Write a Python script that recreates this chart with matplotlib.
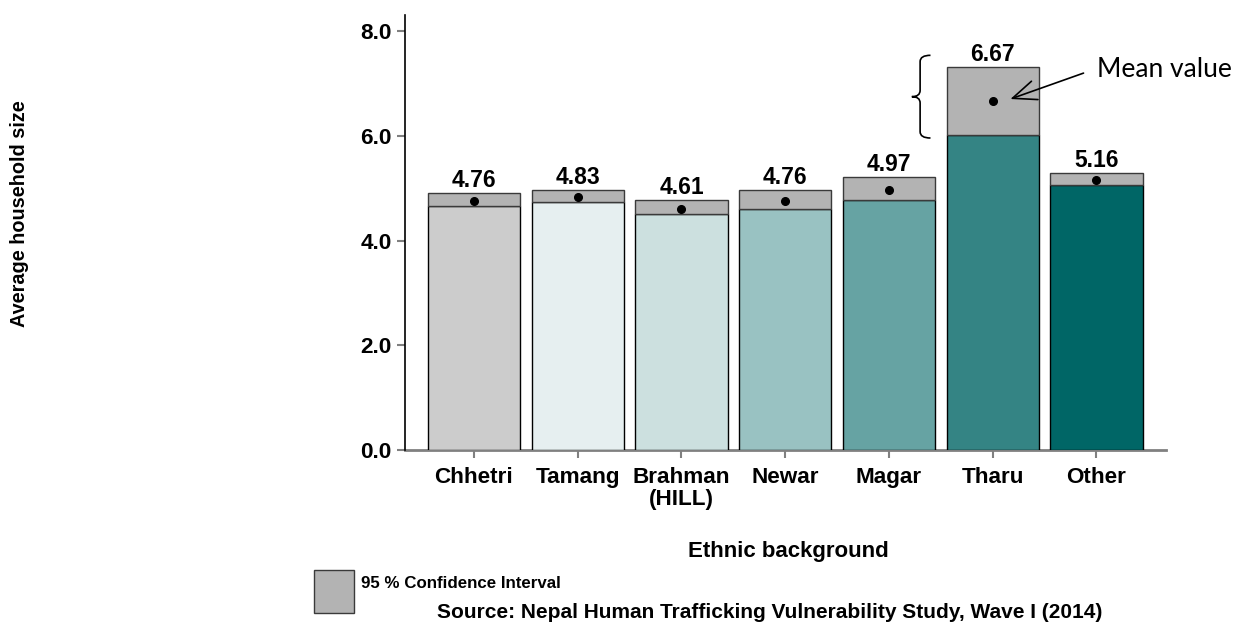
import matplotlib
matplotlib.use("Agg")
import matplotlib.pyplot as plt
from matplotlib.path import Path
from matplotlib.patches import PathPatch, Rectangle

# values
groups = ["Chhetri", "Tamang", "Brahman\n(HILL)", "Newar", "Magar", "Tharu", "Other"]
means = [4.76, 4.83, 4.61, 4.76, 4.97, 6.67, 5.16]
ci_low = [4.67, 4.74, 4.51, 4.60, 4.77, 6.02, 5.06]
ci_high = [4.91, 4.97, 4.77, 4.97, 5.21, 7.32, 5.30]
bar_colors = ["#cccccc", "#e6eff0", "#cce0df", "#99c2c2", "#66a3a3", "#348484", "#006666"]
ci_color = "#b3b3b3"

plt.rcParams["font.family"] = ["Liberation Sans", "DejaVu Sans"]
plt.rcParams["font.weight"] = "bold"

fig = plt.figure(figsize=(12.46, 6.25), dpi=100)
W, H = 1246, 625
ax = fig.add_axes([405 / W, 1 - 450 / H, (1166 - 405) / W, (450 - 15) / H])

x = list(range(len(groups)))
ax.bar(x, ci_low, width=0.89, color=bar_colors, edgecolor="black", linewidth=1, zorder=2)
ax.bar(x, [h - l for h, l in zip(ci_high, ci_low)], bottom=ci_low, width=0.89,
       color=ci_color, edgecolor="#3a3a3a", linewidth=1, zorder=2)
ax.plot(x, means, "o", color="black", markersize=5.5, zorder=3)

for xi, m, h in zip(x, means, ci_high):
    ax.annotate(f"{m:.2f}", (xi, h), xytext=(0, 4.2), textcoords="offset points",
                ha="center", va="baseline", fontsize=16.5, fontweight="bold")

ax.set_xlim(-0.665, 6.67)
ax.set_ylim(0, 8.31)
ax.set_yticks([0, 2, 4, 6, 8])
ax.set_yticklabels([f"{v:.1f}" for v in [0, 2, 4, 6, 8]])
ax.set_xticks(x)
ax.set_xticklabels(groups, linespacing=1.05)
ax.tick_params(axis="both", labelsize=16.2, color="#808080", length=5.5, width=1.5)
ax.tick_params(axis="x", pad=6.8)
ax.tick_params(axis="y", pad=4)
for lab in ax.get_xticklabels() + ax.get_yticklabels():
    lab.set_fontweight("bold")

for s in ["top", "right"]:
    ax.spines[s].set_visible(False)
ax.spines["left"].set_color("black")
ax.spines["left"].set_linewidth(1.2)
ax.spines["bottom"].set_color("#808080")
ax.spines["bottom"].set_linewidth(2)
ax.spines["bottom"].set_zorder(1)

# brace next to the Tharu confidence interval
t = 5
top = ci_high[t] + 0.22
bot = ci_low[t] - 0.06
mid = (top + bot) / 2
xv, xe, xp, r = t - 0.70, t - 0.60, t - 0.78, 0.12
verts = [(xe, top), (xv, top), (xv, top - r), (xv, mid + r), (xv, mid), (xp, mid),
         (xv, mid), (xv, mid - r), (xv, bot + r), (xv, bot), (xe, bot)]
codes = [Path.MOVETO, Path.CURVE3, Path.CURVE3, Path.LINETO, Path.CURVE3, Path.CURVE3,
         Path.CURVE3, Path.CURVE3, Path.LINETO, Path.CURVE3, Path.CURVE3]
ax.add_patch(PathPatch(Path(verts, codes), facecolor="none", edgecolor="black", lw=1.2, zorder=4))

# mean value callout
ax.annotate("", xy=(t + 0.17, means[t] + 0.035), xytext=(t + 0.875, 7.2),
            arrowprops=dict(arrowstyle="->,head_length=0.85,head_width=0.35", color="black",
                            lw=1.2, mutation_scale=20, shrinkA=0, shrinkB=0))
ax.text(t + 1.007, 7.135, "Mean value", fontsize=19, fontweight="normal",
        family=["Lato", "DejaVu Sans"], ha="left", va="baseline")

fig.text(20 / W, 1 - 213.5 / H, "Average household size", rotation=90, fontsize=14.3,
         fontweight="bold", ha="center", va="center")
fig.text(788 / W, 1 - 557 / H, "Ethnic background", fontsize=16, fontweight="bold",
         ha="center", va="baseline")

# legend box for the confidence interval
fig.patches.append(Rectangle((314 / W, 1 - 613 / H), 40 / W, 43 / H, transform=fig.transFigure,
                             facecolor=ci_color, edgecolor="#3a3a3a", linewidth=1))
fig.text(361 / W, 1 - 588 / H, "95 % Confidence Interval", fontsize=12.2, fontweight="bold",
         ha="left", va="baseline")
fig.text(770 / W, 1 - 618 / H, "Source: Nepal Human Trafficking Vulnerability Study, Wave I (2014)",
         fontsize=15, fontweight="bold", ha="center", va="baseline")

fig.savefig("out.png", dpi=100)
